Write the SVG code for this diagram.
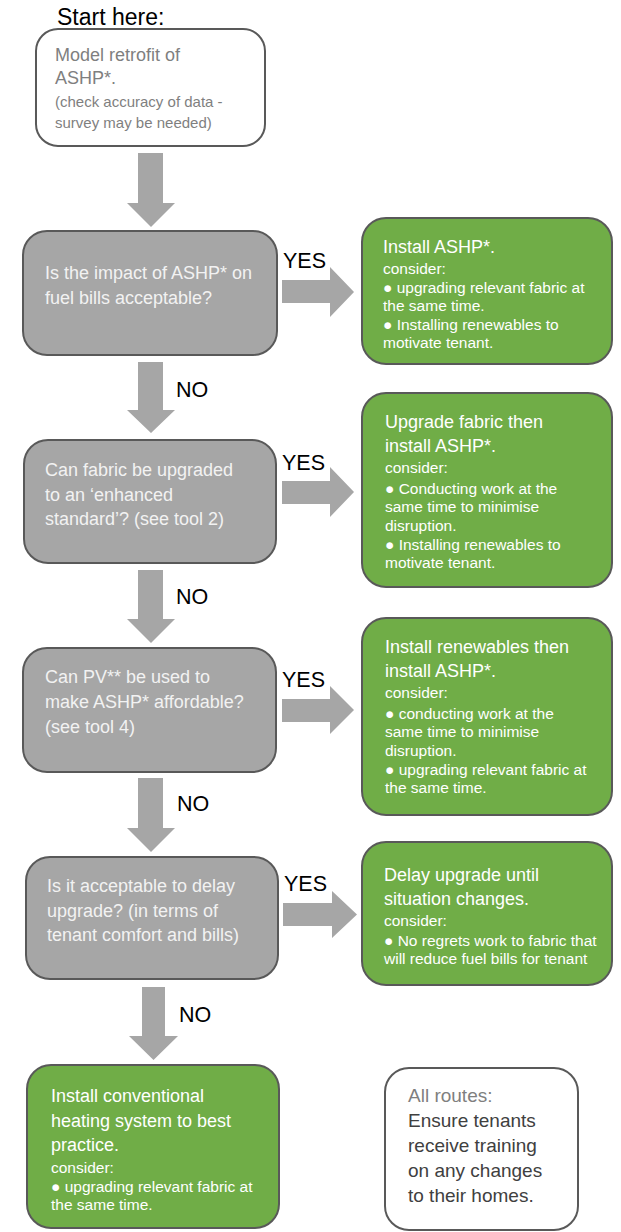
<svg xmlns="http://www.w3.org/2000/svg" width="621" height="1232" viewBox="0 0 621 1232">
<style>
text{font-family:"Liberation Sans",Arial,sans-serif}
.q{fill:#a6a6a6;stroke:#595959;stroke-width:2}
.g{fill:#70ad47;stroke:#595959;stroke-width:2}
.w{fill:#ffffff;stroke:#595959;stroke-width:2}
.arr{fill:#a6a6a6}
.qt{fill:#f2f2f2;font-size:18px}
.gt{fill:#ffffff;font-size:18px}
.gs{fill:#ffffff;font-size:15.5px}
.lbl{fill:#000000;font-size:21.5px}
</style>
<rect width="621" height="1232" fill="#ffffff"/>
<g id="connectors">
<path class="arr" d="M138,153 H163 V203 H175 L151,227 L127,203 H138 Z"/>
<path class="arr" d="M138,362 H163 V410 H175 L151,433 L127,410 H138 Z"/>
<path class="arr" d="M138,570 H163 V619 H175 L151,643 L127,619 H138 Z"/>
<path class="arr" d="M138,778 H163 V828 H175 L151,852 L127,828 H138 Z"/>
<path class="arr" d="M142,987 H165 V1036 H178 L153.5,1060 L129,1036 H142 Z"/>
<path class="arr" d="M282,280 H330 V267 L354,292 L330,317 V303 H282 Z"/>
<path class="arr" d="M282,481 H330 V467 L354,492 L330,517 V504 H282 Z"/>
<path class="arr" d="M282,699 H330 V686 L354,710 L330,734 V722 H282 Z"/>
<path class="arr" d="M283,903 H332 V891 L357,914.5 L332,938 V926 H283 Z"/>
<text class="lbl" x="283" y="268">YES</text>
<text class="lbl" x="282" y="470">YES</text>
<text class="lbl" x="282" y="687">YES</text>
<text class="lbl" x="284" y="891">YES</text>
<text class="lbl" x="176" y="397">NO</text>
<text class="lbl" x="176" y="604">NO</text>
<text class="lbl" x="177" y="811">NO</text>
<text class="lbl" x="179" y="1022">NO</text>
</g>
<g id="start-label">
<text x="57" y="25" font-size="23" fill="#000000">Start here:</text>
</g>
<g id="start">
<rect class="w" x="36" y="29" width="229" height="117" rx="22"/>
<text x="55" y="61" font-size="18" fill="#7f7f7f">Model retrofit of</text>
<text x="55" y="84" font-size="18" fill="#7f7f7f">ASHP*.</text>
<text x="55" y="107" font-size="15" fill="#7f7f7f">(check accuracy of data -</text>
<text x="55" y="128" font-size="15" fill="#7f7f7f">survey may be needed)</text>
</g>
<g id="q1">
<rect class="q" x="23" y="231" width="254" height="124" rx="24"/>
<text class="qt" x="45" y="279">Is the impact of ASHP* on</text>
<text class="qt" x="45" y="304">fuel bills acceptable?</text>
</g>
<g id="a1">
<rect class="g" x="362" y="218" width="250" height="146" rx="24"/>
<text class="gt" x="383" y="253">Install ASHP*.</text>
<text class="gs" x="383" y="274">consider:</text>
<text class="gs" x="383" y="293">● upgrading relevant fabric at</text>
<text class="gs" x="383" y="311">the same time.</text>
<text class="gs" x="383" y="330">● Installing renewables to</text>
<text class="gs" x="383" y="348">motivate tenant.</text>
</g>
<g id="q2">
<rect class="q" x="24" y="440" width="252" height="123" rx="24"/>
<text class="qt" x="45" y="476">Can fabric be upgraded</text>
<text class="qt" x="45" y="501">to an ‘enhanced</text>
<text class="qt" x="45" y="525">standard’? (see tool 2)</text>
</g>
<g id="a2">
<rect class="g" x="362" y="393" width="250" height="194" rx="24"/>
<text class="gt" x="385" y="428">Upgrade fabric then</text>
<text class="gt" x="385" y="452">install ASHP*.</text>
<text class="gs" x="385" y="473">consider:</text>
<text class="gs" x="385" y="494">● Conducting work at the</text>
<text class="gs" x="385" y="512">same time to minimise</text>
<text class="gs" x="385" y="531">disruption.</text>
<text class="gs" x="385" y="550">● Installing renewables to</text>
<text class="gs" x="385" y="568">motivate tenant.</text>
</g>
<g id="q3">
<rect class="q" x="23" y="648" width="253" height="124" rx="24"/>
<text class="qt" x="45" y="683">Can PV** be used to</text>
<text class="qt" x="45" y="708">make ASHP* affordable?</text>
<text class="qt" x="45" y="733">(see tool 4)</text>
</g>
<g id="a3">
<rect class="g" x="362" y="618" width="250" height="197" rx="24"/>
<text class="gt" x="385" y="653">Install renewables then</text>
<text class="gt" x="385" y="677">install ASHP*.</text>
<text class="gs" x="385" y="698">consider:</text>
<text class="gs" x="385" y="719">● conducting work at the</text>
<text class="gs" x="385" y="737">same time to minimise</text>
<text class="gs" x="385" y="756">disruption.</text>
<text class="gs" x="385" y="775">● upgrading relevant fabric at</text>
<text class="gs" x="385" y="793">the same time.</text>
</g>
<g id="q4">
<rect class="q" x="26" y="857" width="252" height="122" rx="24"/>
<text class="qt" x="47" y="892">Is it acceptable to delay</text>
<text class="qt" x="47" y="917">upgrade? (in terms of</text>
<text class="qt" x="47" y="941">tenant comfort and bills)</text>
</g>
<g id="a4">
<rect class="g" x="362" y="842" width="250" height="143" rx="24"/>
<text class="gt" x="384" y="881">Delay upgrade until</text>
<text class="gt" x="384" y="905">situation changes.</text>
<text class="gs" x="384" y="926">consider:</text>
<text class="gs" x="384" y="946">● No regrets work to fabric that</text>
<text class="gs" x="384" y="964">will reduce fuel bills for tenant</text>
</g>
<g id="a5">
<rect class="g" x="27" y="1065" width="252" height="163" rx="24"/>
<text class="gt" x="51" y="1102">Install conventional</text>
<text class="gt" x="51" y="1127">heating system to best</text>
<text class="gt" x="51" y="1151">practice.</text>
<text class="gs" x="51" y="1173">consider:</text>
<text class="gs" x="51" y="1192">● upgrading relevant fabric at</text>
<text class="gs" x="51" y="1210">the same time.</text>
</g>
<g id="note">
<rect class="w" x="385" y="1068" width="193" height="162" rx="24"/>
<text x="408" y="1102" font-size="19" fill="#7f7f7f">All routes:</text>
<text x="408" y="1127" font-size="19" fill="#404040">Ensure tenants</text>
<text x="408" y="1152" font-size="19" fill="#404040">receive training</text>
<text x="408" y="1177" font-size="19" fill="#404040">on any changes</text>
<text x="408" y="1202" font-size="19" fill="#404040">to their homes.</text>
</g>
</svg>
